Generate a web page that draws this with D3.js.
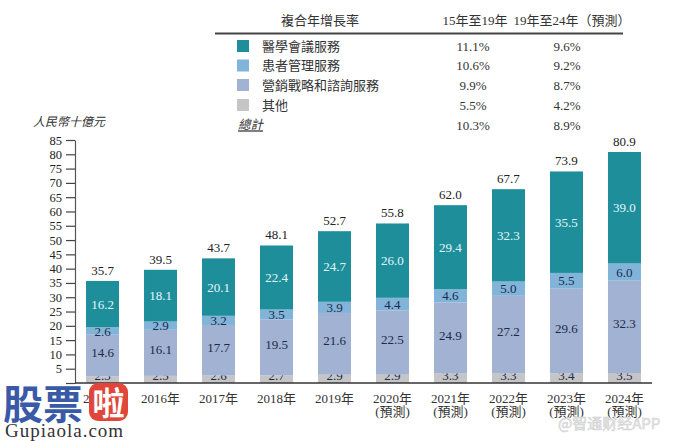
<!DOCTYPE html>
<html><head><meta charset="utf-8">
<script src="https://cdn.jsdelivr.net/npm/d3@7/dist/d3.min.js"></script>
<style>
body{margin:0;background:#fff;}
svg{display:block;}
text{font-family:"Liberation Serif","Noto Sans CJK TC",serif;}
</style></head><body>
<svg id="c" width="675" height="441"></svg>
<script>
const years = ["2015年","2016年","2017年","2018年","2019年","2020年","2021年","2022年","2023年","2024年"];
const forecast = [false,false,false,false,false,true,true,true,true,true];
const other = [2.3,2.5,2.6,2.7,2.9,2.9,3.3,3.3,3.4,3.5];
const marketing = [14.6,16.1,17.7,19.5,21.6,22.5,24.9,27.2,29.6,32.3];
const patient = [2.6,2.9,3.2,3.5,3.9,4.4,4.6,5.0,5.5,6.0];
const medical = [16.2,18.1,20.1,22.4,24.7,26.0,29.4,32.3,35.5,39.0];
const totals = [35.7,39.5,43.7,48.1,52.7,55.8,62.0,67.7,73.9,80.9];
const yTicks = [0,5,10,15,20,25,30,35,40,45,50,55,60,65,70,75,80,85];

const legendNames = ["醫學會議服務","患者管理服務","營銷戰略和諮詢服務","其他"];
const cagr1519 = ["11.1%","10.6%","9.9%","5.5%"];
const cagr1924 = ["9.6%","9.2%","8.7%","4.2%"];
const totalCagr = ["10.3%","8.9%"];

const keys = ["other","marketing","patient","medical"];
const colors = {medical:"#1e8e9b", patient:"#82b3d9", marketing:"#a2b2d3", other:"#c5c5c7"};
const legendKeys = ["medical","patient","marketing","other"];

const svg = d3.select("#c");
const rows = years.map((y,i)=>({year:y, other:other[i], marketing:marketing[i], patient:patient[i], medical:medical[i]}));
const series = d3.stack().keys(keys)(rows);

const x = d3.scaleBand().domain(years).range([75,652]).paddingInner(0.431).paddingOuter(0.19);
const y = d3.scaleLinear().domain([0,85]).range([383,140]);

// bars
const g = svg.append("g");
series.forEach(s=>{
  g.selectAll(null).data(s).enter().append("rect")
    .attr("x",(d,i)=>x(years[i]))
    .attr("width",x.bandwidth())
    .attr("y",d=>y(d[1]))
    .attr("height",d=>y(d[0])-y(d[1]))
    .attr("fill",colors[s.key]);
  g.selectAll(null).data(s).enter().append("text")
    .attr("x",(d,i)=>x(years[i])+x.bandwidth()/2)
    .attr("y",d=>{
      const c=(y(d[0])+y(d[1]))/2;
      if(s.key==="other") return y(d[0])-3.5;
      if(s.key==="marketing") return c-3;
      return c;
    })
    .attr("dy",s.key==="other"?"0":"0.35em")
    .attr("text-anchor","middle")
    .attr("font-size",13)
    .attr("fill",s.key==="medical"?"#e3f7fa":"#1c2a48")
    .text(d=>d.data[s.key].toFixed(1));
});
// totals
g.selectAll(null).data(totals).enter().append("text")
  .attr("x",(d,i)=>x(years[i])+x.bandwidth()/2)
  .attr("y",(d,i)=>y(series[3][i][1])-6)
  .attr("text-anchor","middle").attr("font-size",13).attr("fill","#222")
  .text(d=>d.toFixed(1));

// y axis
const ya = svg.append("g").attr("transform","translate(75,0)")
  .call(d3.axisLeft(y).tickValues(yTicks).tickSize(9).tickSizeOuter(0).tickPadding(4)
    .tickFormat(d=>d===0?"":d));
ya.select(".domain").attr("stroke","#555").attr("stroke-width",1.2);
ya.selectAll(".tick line").attr("stroke","#444").attr("stroke-width",1.2);
ya.selectAll(".tick text").attr("font-size",12.5).attr("fill","#222")
  .style("font-family","'Liberation Serif',serif");

// x axis baseline
svg.append("line").attr("x1",75).attr("x2",652).attr("y1",y(0)).attr("y2",y(0))
  .attr("stroke","#333").attr("stroke-width",1.5);

// x labels
const xl = svg.append("g");
years.forEach((yr,i)=>{
  const cx = x(yr)+x.bandwidth()/2;
  xl.append("text").attr("x",cx).attr("y",403).attr("text-anchor","middle")
    .attr("font-size",13).attr("fill","#333").text(yr);
  if(forecast[i]) xl.append("text").attr("x",cx).attr("y",416).attr("text-anchor","middle")
    .attr("font-size",13).attr("fill","#333").text("(預測)");
});

// y title
svg.append("text").attr("x",33).attr("y",126).attr("font-size",12)
  .attr("font-style","italic").attr("fill","#333").text("人民幣十億元");

// legend table
const lg = svg.append("g");
lg.append("text").attr("x",320).attr("y",25).attr("text-anchor","middle").attr("font-size",13).attr("fill","#333").text("複合年增長率");
lg.append("text").attr("x",475).attr("y",25).attr("text-anchor","middle").attr("font-size",13).attr("fill","#333").text("15年至19年");
lg.append("text").attr("x",572).attr("y",25).attr("text-anchor","middle").attr("font-size",13).attr("fill","#333").text("19年至24年（預測）");
lg.append("line").attr("x1",215).attr("x2",623).attr("y1",33.5).attr("y2",33.5).attr("stroke","#444").attr("stroke-width",2);
const rowY = [46,65.5,85,105];
legendKeys.forEach((k,i)=>{
  lg.append("rect").attr("x",237).attr("y",rowY[i]-6).attr("width",12).attr("height",12).attr("fill",colors[k]);
  lg.append("text").attr("x",262).attr("y",rowY[i]).attr("dy","0.35em").attr("font-size",13).attr("fill","#333").text(legendNames[i]);
  lg.append("text").attr("x",473).attr("y",rowY[i]).attr("dy","0.35em").attr("text-anchor","middle").attr("font-size",13).attr("fill","#333").text(cagr1519[i]);
  lg.append("text").attr("x",567).attr("y",rowY[i]).attr("dy","0.35em").attr("text-anchor","middle").attr("font-size",13).attr("fill","#333").text(cagr1924[i]);
});
lg.append("text").attr("x",238).attr("y",125).attr("dy","0.35em").attr("font-size",12.5).attr("font-style","italic")
  .attr("text-decoration","underline").attr("fill","#333").text("總計");
lg.append("text").attr("x",473).attr("y",125).attr("dy","0.35em").attr("text-anchor","middle").attr("font-size",13).attr("fill","#333").text(totalCagr[0]);
lg.append("text").attr("x",567).attr("y",125).attr("dy","0.35em").attr("text-anchor","middle").attr("font-size",13).attr("fill","#333").text(totalCagr[1]);

// watermarks
const wm = svg.append("g");
wm.append("text").attr("x",3).attr("y",419).attr("font-size",40).attr("font-weight","bold")
  .attr("fill","#3a5aa8").style("font-family","'Noto Sans CJK SC',sans-serif").text("股票");
wm.append("rect").attr("x",89).attr("y",383).attr("width",39).attr("height",38).attr("rx",9).attr("fill","#e0473a");
wm.append("text").attr("x",108.5).attr("y",415).attr("text-anchor","middle").attr("font-size",32)
  .attr("font-weight","bold").attr("fill","#fff").style("font-family","'Noto Sans CJK SC',sans-serif").text("啦");
wm.append("text").attr("x",5).attr("y",437).attr("font-size",19).attr("fill","#333")
  .attr("letter-spacing","1").text("Gupiaola.com");
wm.append("text").attr("x",558).attr("y",429).attr("font-size",15).attr("fill","#e6e6e6")
  .attr("stroke","#cfcfcf").attr("stroke-width",0.5)
  .style("font-family","'Noto Sans CJK SC',sans-serif").text("@智通财经APP");
</script></body></html>
